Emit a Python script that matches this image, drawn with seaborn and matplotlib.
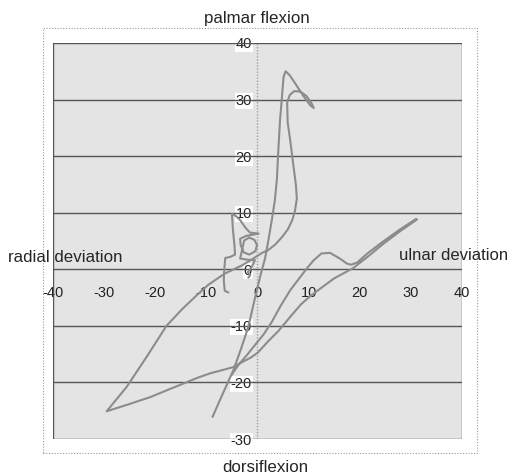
import matplotlib
matplotlib.use("Agg")
import matplotlib.pyplot as plt
from matplotlib.patches import Rectangle
import numpy as np
import pandas as pd
import seaborn as sns

# Wrist trajectory (deviation angle vs. flexion angle, degrees)
flexion_x = [-8.8, -6.8, -4.7, -3.2, -1.8, -0.5, 0.6, 1.5, 2.2, 2.8, 3.4, 3.8, 4.0, 4.2,
             4.4, 4.7, 4.9, 5.1, 5.5, 6.3, 7.7, 9.0, 10.3, 11.0, 10.6, 9.6, 8.4, 7.2,
             6.3, 5.8, 5.9, 6.4, 7.0, 7.5, 7.7, 7.3, 6.8, 5.9, 4.8, 3.5, 2.1, 0.9]
flexion_y = [-26.1, -22.0, -17.8, -14.0, -10.2, -5.1, -1.0, 2.0, 5.5, 8.7, 12.2, 16.0, 19.8, 23.0,
             26.3, 29.5, 31.8, 34.0, 35.0, 34.3, 32.4, 30.6, 29.0, 28.5, 29.3, 30.6, 31.4, 31.5,
             30.8, 29.5, 26.0, 22.8, 18.5, 15.0, 12.5, 10.2, 8.7, 7.0, 5.7, 4.4, 3.4, 2.9]

radial_x = [-1.0, -3.0, -6.5, -9.7, -11.9, -14.8, -17.8, -21.7, -25.6, -29.5]
radial_y = [1.8, 0.7, -0.8, -2.8, -4.6, -7.1, -10.0, -15.5, -20.8, -25.1]

ulnar_x = [-25.0, -21.0, -17.5, -14.5, -11.8, -9.3, -6.8, -4.8, -3.0, -1.3, 0.1, 2.0, 4.0,
           6.5, 8.5, 10.0, 12.0, 15.0, 18.7, 21.8, 24.6, 28.0, 31.2]
ulnar_y = [-23.8, -22.6, -21.3, -20.2, -19.2, -18.4, -17.8, -17.3, -16.4, -15.6, -14.7, -12.8, -11.0,
           -8.3, -6.2, -5.0, -3.6, -1.6, 0.2, 2.4, 4.5, 6.8, 8.8]

return_x = [31.0, 27.8, 24.4, 21.5, 19.5, 18.3, 17.5, 16.1, 14.2, 12.5, 11.0, 9.6, 8.0, 6.4,
            4.5, 2.8, 1.2, -0.5, -2.2, -3.8, -5.0]
return_y = [8.9, 7.0, 4.8, 2.8, 1.2, 0.8, 1.0, 1.9, 2.9, 2.8, 1.6, 0.1, -1.8, -3.7,
            -6.5, -9.3, -11.5, -13.4, -15.3, -17.0, -18.6]

settle_x = [-5.7, -6.4, -6.6, -6.5, -6.3, -5.3, -4.4, -4.5, -4.8, -5.0, -4.2, -3.4, -2.4, -1.5,
            0.2, -1.0, -2.2, -3.4, -3.3, -2.7, -1.6, -0.4, -0.1, -0.6, -1.6, -2.6, -3.4, -2.0,
            -0.5, -1.2, -1.9, -1.4, -1.8]
settle_y = [-4.1, -3.8, -2.0, 0.0, 2.0, 2.2, 2.6, 4.2, 6.9, 9.8, 9.4, 8.7, 7.4, 6.5,
            6.3, 6.1, 5.9, 5.4, 4.3, 3.0, 2.6, 3.2, 4.3, 5.2, 5.6, 5.1, 1.9, 1.7,
            1.6, 0.3, -0.5, -1.0, -1.5]

x_ticks = [-40, -30, -20, -10, 0, 10, 20, 30, 40]
y_ticks = [-30, -20, -10, 0, 10, 20, 30, 40]

main_x = flexion_x + radial_x + ulnar_x + return_x
main_y = flexion_y + radial_y + ulnar_y + return_y
df = pd.DataFrame({
    "deviation": main_x + settle_x,
    "flexion": main_y + settle_y,
    "stroke": ["main"] * len(main_x) + ["settle"] * len(settle_x),
})

sns.set_style("white")
plt.rcParams["font.family"] = ["Liberation Sans", "DejaVu Sans"]

fig = plt.figure(figsize=(5.10, 4.76), dpi=100)
ax = fig.add_axes([0.1039, 0.0777, 0.802, 0.832])
ax.set_facecolor("#e4e4e4")

# outer dotted frame
fig.patches.append(Rectangle((0.0843, 0.0483), 0.935 - 0.0843, 0.941 - 0.0483,
                             transform=fig.transFigure, fill=False,
                             edgecolor="#9a9a9a", linestyle=(0, (1, 1.5)), lw=0.8))

for v in y_ticks:
    ax.axhline(v, color="#555555", lw=1.0, zorder=1)
for v in (x_ticks[0], x_ticks[-1]):
    ax.axvline(v, color="#555555", lw=1.0, zorder=1)
ax.axvline(0, color="#a0a0a0", lw=1.0, linestyle=(0, (1, 1.2)), zorder=1)

sns.lineplot(data=df, x="deviation", y="flexion", units="stroke", estimator=None,
             sort=False, color="#8c8c8c", lw=1.5, ax=ax, zorder=2)

ax.set_xlim(-40, 40)
ax.set_ylim(-30, 40)
ax.set_xticks(x_ticks)
ax.set_yticks(y_ticks)
ax.set_xticklabels([str(v) for v in x_ticks])
ax.set_yticklabels([str(v) for v in y_ticks])
ax.set_xlabel("")
ax.set_ylabel("")
ax.spines["left"].set_position(("data", 0))
ax.spines["bottom"].set_position(("data", 0))
for s in ax.spines.values():
    s.set_visible(False)
ax.tick_params(axis="both", length=0, labelsize=10.5, labelcolor="#222222")
ax.tick_params(axis="x", pad=12)
ax.tick_params(axis="y", pad=4)
for lbl in ax.get_yticklabels():
    lbl.set_bbox(dict(facecolor="white", edgecolor="none", pad=0.6))

fig.text(257 / 510, 1 - 19 / 476, "palmar flexion", ha="center", va="center", fontsize=12.2)
fig.text(265 / 510, 1 - 467 / 476, "dorsiflexion", ha="center", va="center", fontsize=12.2)
fig.text(65 / 510, 1 - 257 / 476, "radial deviation", ha="center", va="center", fontsize=12.2)
fig.text(508 / 510, 1 - 255 / 476, "ulnar deviation", ha="right", va="center", fontsize=12.0)

fig.savefig("out.png", dpi=100)
